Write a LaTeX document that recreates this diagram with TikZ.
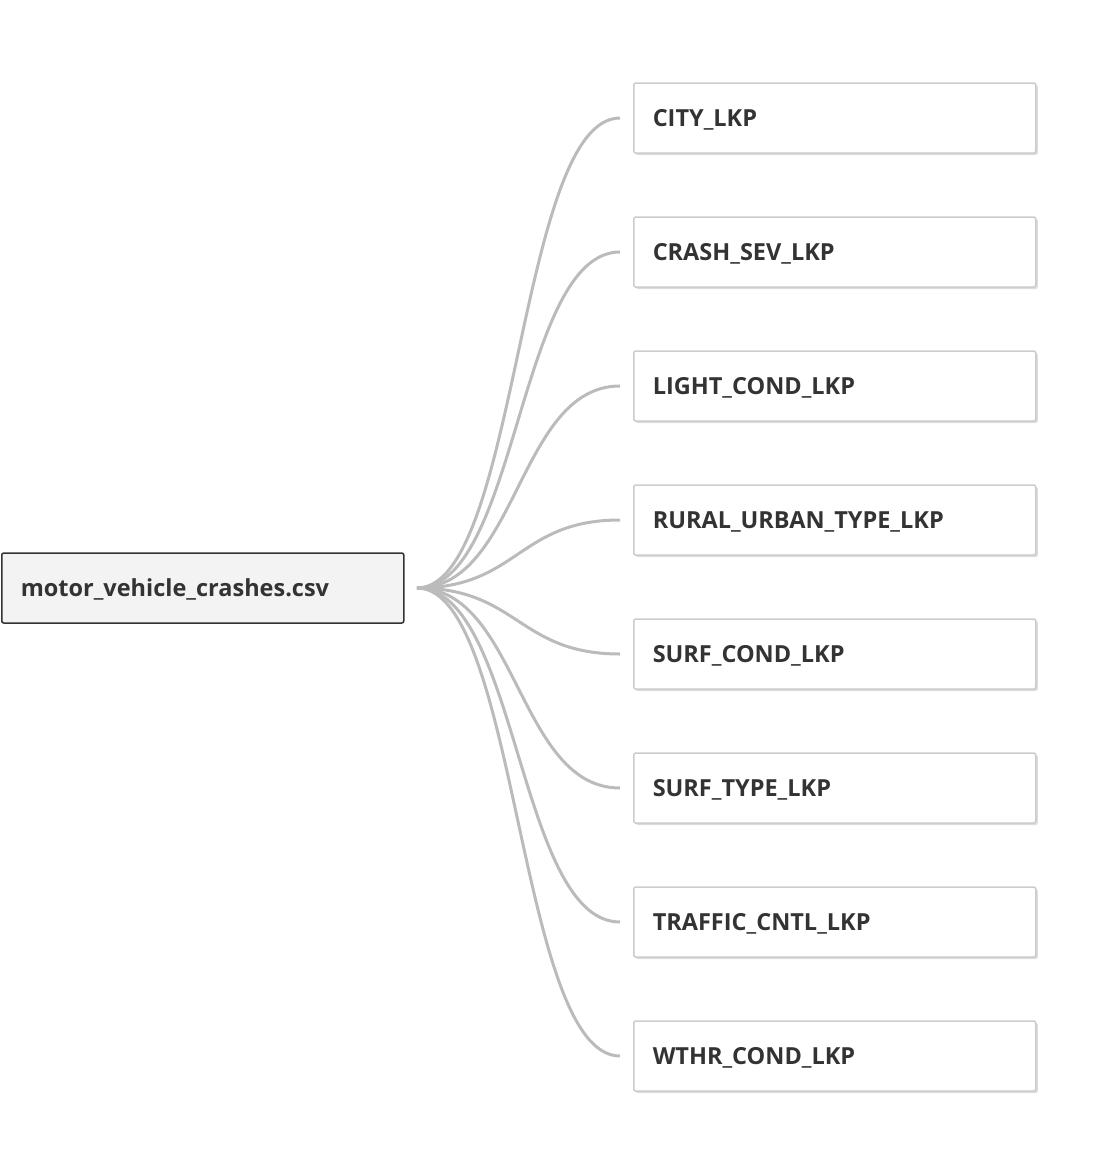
\documentclass[tikz,border=0pt]{standalone}
\usepackage{fontspec}
\setmainfont{Open Sans}
\usetikzlibrary{shadows}
\definecolor{txt}{HTML}{333333}
\definecolor{link}{HTML}{BBBBBB}
\definecolor{srcfill}{HTML}{F3F3F3}
\definecolor{srcline}{HTML}{333333}
\definecolor{tgtline}{HTML}{CCCCCC}
\definecolor{shadowc}{HTML}{DDDDDD}
\begin{document}
\begin{tikzpicture}[x=1pt,y=-1pt,
  boxfont/.style={font=\fontsize{23.5}{28}\selectfont\bfseries,text=txt,text height=18pt,text depth=1.2pt},
  srcbox/.style={boxfont,draw=srcline,fill=srcfill,line width=1.5pt,rounded corners=2pt,minimum width=402pt,minimum height=70pt,anchor=west,inner sep=0pt,text width=364pt,align=left},
  tgtbox/.style={boxfont,draw=tgtline,fill=white,line width=1.5pt,rounded corners=2pt,minimum width=402pt,minimum height=70pt,anchor=west,inner sep=0pt,text width=364pt,align=left,
     drop shadow={shadow xshift=2pt,shadow yshift=-2pt,fill=shadowc,opacity=1}},
  linkline/.style={draw=link,line width=3pt}]
\useasboundingbox (0,0) rectangle (1114,1154);
\node[srcbox] (src) at (1,588) {motor\_vehicle\_crashes.csv};
\coordinate (s) at (417,588);
\foreach \n/\lab/\y in {a/CITY\_LKP/118, b/CRASH\_SEV\_LKP/252, c/LIGHT\_COND\_LKP/386, d/RURAL\_URBAN\_TYPE\_LKP/520, e/SURF\_COND\_LKP/654, f/SURF\_TYPE\_LKP/788, g/TRAFFIC\_CNTL\_LKP/922, h/WTHR\_COND\_LKP/1056}{
  \node[tgtbox] (\n) at (633,\y) {\lab};
  \coordinate (\n in) at (620,\y);
  \draw[linkline] (s) .. controls (518,588) and (518,\y) .. (\n in);
}
\end{tikzpicture}
\end{document}
